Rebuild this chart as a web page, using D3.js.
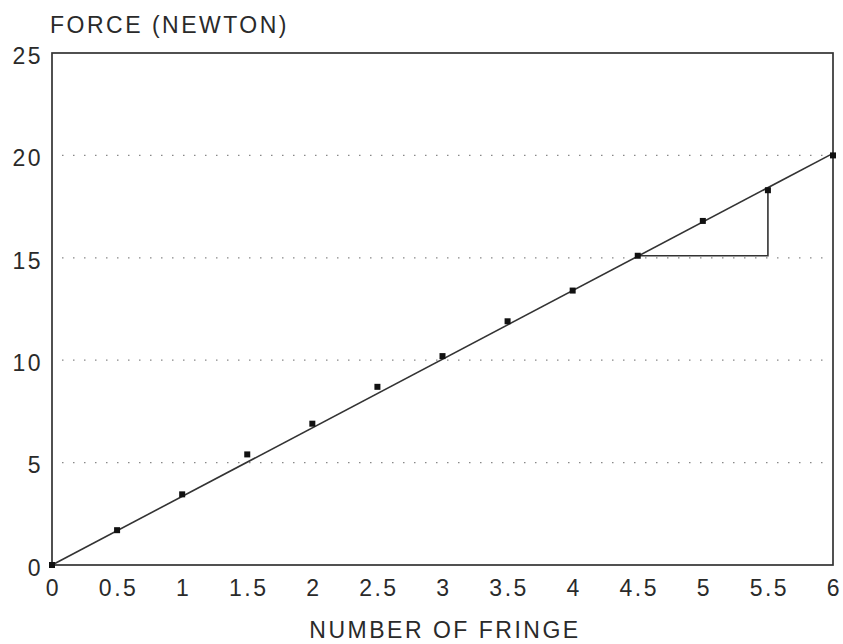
<!DOCTYPE html>
<html><head><meta charset="utf-8">
<script src="https://cdn.jsdelivr.net/npm/d3@7"></script>
<style>body{margin:0;background:#fff}svg{display:block}text{font-family:"Liberation Sans",Arial,sans-serif;fill:#2a2a2a;letter-spacing:2.5px}</style>
</head><body><svg id="c" width="843" height="644"></svg>
<script>
const fringe = [0, 0.5, 1, 1.5, 2, 2.5, 3, 3.5, 4, 4.5, 5, 5.5, 6];
const force  = [0, 1.7, 3.45, 5.4, 6.9, 8.7, 10.2, 11.9, 13.4, 15.1, 16.8, 18.3, 20.0];
const fitX = [0, 6];
const fitY = [0, 20.1];
const triX = [4.5, 5.5, 5.5];
const triY = [15.1, 15.1, 18.3];
const xTicks = [0, 0.5, 1, 1.5, 2, 2.5, 3, 3.5, 4, 4.5, 5, 5.5, 6];
const yTicks = [0, 5, 10, 15, 20, 25];
const gridY = [5, 10, 15, 20];

const svg = d3.select("#c");
const L = 52, R = 833, T = 53, B = 565;
const x = d3.scaleLinear().domain([0, 6]).range([L, R]);
const y = d3.scaleLinear().domain([0, 25]).range([B, T]);
const FS = 23;

// grid
svg.append("g").selectAll("line").data(gridY).join("line")
  .attr("x1", L + 10).attr("x2", R - 4)
  .attr("y1", d => y(d)).attr("y2", d => y(d))
  .attr("stroke", "#888").attr("stroke-width", 1.3).attr("stroke-dasharray", "1.5,9.5");

// frame
svg.append("rect").attr("x", L).attr("y", T).attr("width", R - L).attr("height", B - T)
  .attr("fill", "none").attr("stroke", "#333").attr("stroke-width", 1.7);

// axes tick labels
const xAxis = d3.axisBottom(x).tickValues(xTicks).tickSize(0).tickPadding(15).tickFormat(d3.format("~g"));
const gx = svg.append("g").attr("transform", `translate(1,${B})`).call(xAxis);
gx.select(".domain").remove();
gx.selectAll("text").attr("font-size", FS).attr("font-family", "Liberation Sans, Arial, sans-serif").attr("fill", "#2a2a2a");

const yAxis = d3.axisLeft(y).tickValues(yTicks).tickSize(0).tickPadding(9).tickFormat(d3.format("~g"));
const gy = svg.append("g").attr("transform", `translate(${L},3)`).call(yAxis);
gy.select(".domain").remove();
gy.selectAll("text").attr("font-size", FS).attr("font-family", "Liberation Sans, Arial, sans-serif").attr("fill", "#2a2a2a");

// fit line
const line = d3.line().x(d => x(d[0])).y(d => y(d[1]));
svg.append("path").datum(fitX.map((v, i) => [v, fitY[i]]))
  .attr("d", line).attr("fill", "none").attr("stroke", "#333").attr("stroke-width", 1.6);

// triangle
svg.append("path").datum(triX.map((v, i) => [v, triY[i]]))
  .attr("d", line).attr("fill", "none").attr("stroke", "#333").attr("stroke-width", 1.6);

// points
svg.append("g").selectAll("rect").data(fringe.map((v, i) => [v, force[i]])).join("rect")
  .attr("x", d => x(d[0]) - 3).attr("y", d => y(d[1]) - 3)
  .attr("width", 6).attr("height", 6).attr("fill", "#111");

// titles
svg.append("text").attr("x", 50).attr("y", 33).attr("font-size", FS).text("FORCE (NEWTON)");
svg.append("text").attr("x", 445).attr("y", 638).attr("text-anchor", "middle")
  .attr("font-size", FS).text("NUMBER OF FRINGE");
</script></body></html>
